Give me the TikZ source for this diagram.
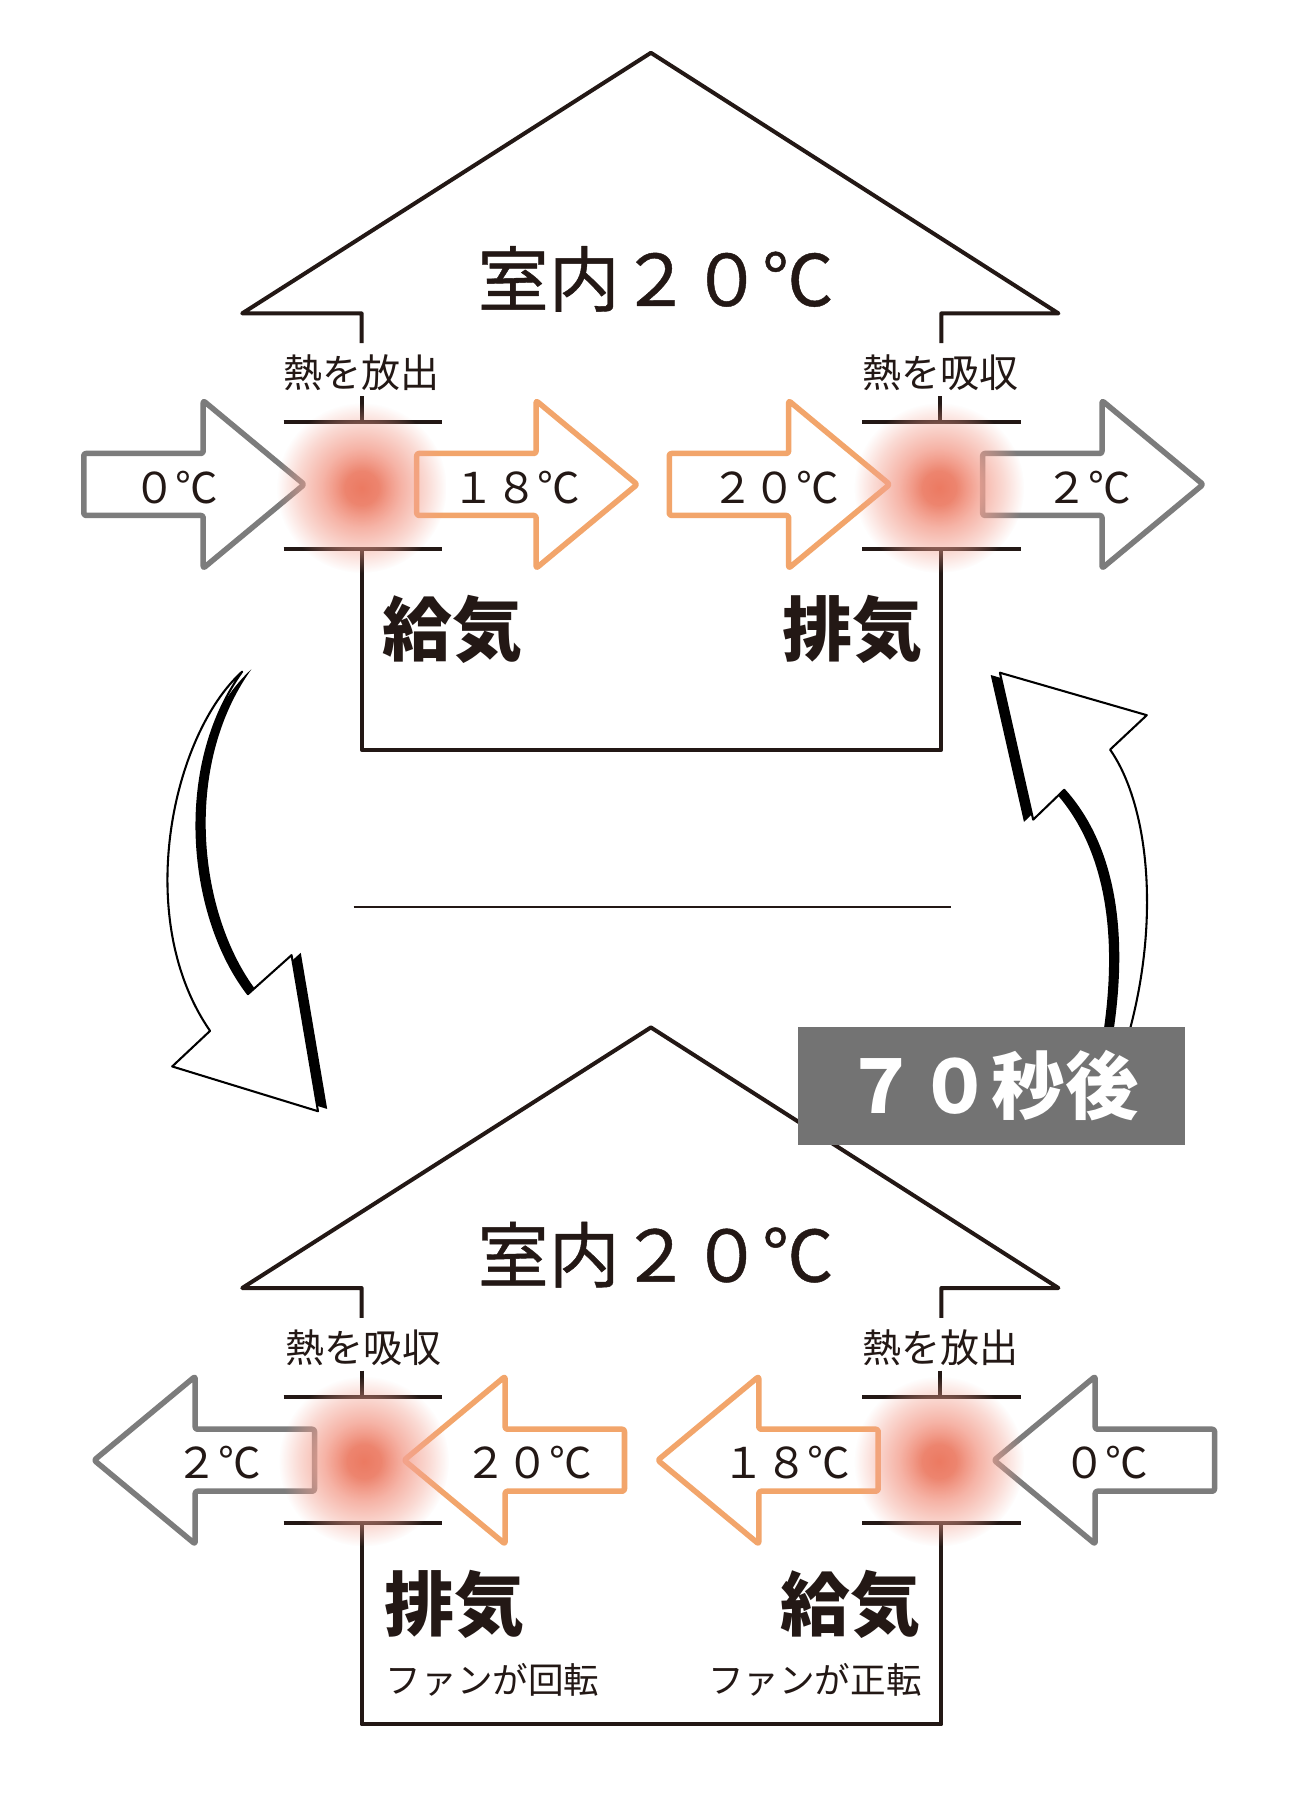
\documentclass[tikz,border=0pt]{standalone}
\usepackage{fontspec}
\usepackage{tikz}
\usetikzlibrary{fadings}
\newfontfamily\jp{Noto Sans CJK JP}
\newfontfamily\jpmid{Noto Sans CJK JP}[FakeBold=0.6]

\definecolor{ink}{HTML}{231815}
\definecolor{coldair}{HTML}{7C7C7C}
\definecolor{warmair}{HTML}{F2A56B}
\definecolor{boxgrey}{HTML}{737373}
\definecolor{glowcore}{HTML}{EC7A62}
\definecolor{glowring}{HTML}{F4A393}

% glow of the heat exchanger
\pgfdeclareradialshading{glowshade}{\pgfpointorigin}{color(0bp)=(glowcore); color(5bp)=(glowcore); color(12bp)=(glowring); color(50bp)=(glowring)}
\pgfdeclareradialshading{glowmask}{\pgfpointorigin}{color(0bp)=(white); color(12bp)=(white!80!black); color(19bp)=(white!40!black); color(25bp)=(black); color(50bp)=(black)}
\pgfdeclarefading{glowfade}{\pgfuseshading{glowmask}}

\tikzset{pics/blockarrow/.style={code={
  \draw[pic actions] (-192,-27) -- (-88,-27) -- (-88,-73) -- (0,0) -- (-88,73) -- (-88,27) -- (-192,27) -- cycle;}}}

\def\downturn{(211,585) .. controls (150,640) and (115,800) .. (183,898) -- (150,929) -- (277,968) -- (254,832) -- (216,866) .. controls (165,800) and (150,670) .. (211,585) -- cycle}
\def\upturn{(871,586) -- (999,623) -- (967,653) .. controls (1000,700) and (1012,800) .. (982,905) -- (968,905) .. controls (985,800) and (965,730) .. (927,688) -- (900,714) -- cycle}

\begin{document}
\begin{tikzpicture}[x=1pt, y=-1pt, line join=round,
    house/.style={draw=ink, line width=3.5pt},
    flowline/.style={line width=4.8pt, rounded corners=2pt, fill=white},
    turn/.style={draw=black, line width=1.8pt, fill=white},
    title/.style={inner sep=0pt, text=ink, font=\jpmid\fontsize{62pt}{70pt}\selectfont},
    heat/.style={inner sep=0pt, text=ink, font=\jp\fontsize{34pt}{40pt}\selectfont},
    mode/.style={inner sep=0pt, text=ink, font=\jp\bfseries\fontsize{61pt}{70pt}\selectfont},
    fan/.style={inner sep=0pt, text=ink, font=\jp\fontsize{31pt}{36pt}\selectfont},
    temp/.style={inner sep=0pt, text=ink, font=\jp\fontsize{37pt}{42pt}\selectfont}]
    \path[fill=white] (0,0) rectangle (1132,1568);

    % Houses
    \foreach \dy in {0,849} {
      \begin{scope}[shift={(0,\dy)}]
        \draw[house] (315,299) -- (315,273) -- (211,273) -- (567,46) -- (922,273) -- (820,273) -- (820,299);
        \draw[house] (315,478) -- (315,653) -- (820,653) -- (820,478);
        \foreach \cx in {315,819} {
          \draw[house] (\cx,345) -- (\cx,368);
          \draw[house] (\cx-68,368) -- (\cx+70,368);
          \draw[house] (\cx-68,478) -- (\cx+70,478);
        }
      \end{scope}
    }

    % Divider
    \draw[ink, line width=1.5pt] (308,790) -- (828,790);

    % Turn arrows
    \fill[black, shift={(8,-2)}] \downturn;
    \draw[turn] \downturn;
    \fill[black, shift={(-8,2)}] \upturn;
    \draw[turn] \upturn;

    % 70 s label
    \node[fill=boxgrey, minimum width=337pt, minimum height=103pt, inner sep=0pt,
          text=white, font=\jp\bfseries\fontsize{64pt}{70pt}\selectfont] (later) at (864,946) {７０秒後};

    % Air flow, top
    \pic[draw=coldair, flowline] at (265,422) {blockarrow};
    \pic[draw=warmair, flowline] at (555,422) {blockarrow};
    \pic[draw=warmair, flowline] at (775,422) {blockarrow};
    \pic[draw=coldair, flowline] at (1048,422) {blockarrow};

    % Air flow, bottom
    \pic[draw=coldair, flowline, xscale=-1] at (82,1272) {blockarrow};
    \pic[draw=warmair, flowline, xscale=-1] at (352,1272) {blockarrow};
    \pic[draw=warmair, flowline, xscale=-1] at (573,1272) {blockarrow};
    \pic[draw=coldair, flowline, xscale=-1] at (866,1272) {blockarrow};

    % Heat exchangers
    \coordinate (hx1) at (315,425);
    \coordinate (hx2) at (818,425);
    \coordinate (hx3) at (317,1273);
    \coordinate (hx4) at (818,1273);
    \foreach \hx in {hx1,hx2,hx3,hx4}
      \shade[shading=glowshade, path fading=glowfade] (\hx) circle (74);

    % Temperatures
    \node[temp] (t1) at (153,425) {０℃};
    \node[temp] (t2) at (450,425) {１８℃};
    \node[temp] (t3) at (675,425) {２０℃};
    \node[temp] (t4) at (948,425) {２℃};
    \node[temp] (t5) at (190,1274) {２℃};
    \node[temp] (t6) at (460,1274) {２０℃};
    \node[temp] (t7) at (685,1274) {１８℃};
    \node[temp] (t8) at (963,1274) {０℃};

    % Labels, top house
    \node[title] (room1) at (571,243) {室内２０℃};
    \node[heat] (emit1) at (315,325) {熱を放出};
    \node[heat] (take1) at (819,325) {熱を吸収};
    \node[mode, anchor=west] (supply1) at (333,548) {給気};
    \node[mode, anchor=east] (exhaust1) at (804,548) {排気};

    % Labels, bottom house
    \node[title] (room2) at (571,1093) {室内２０℃};
    \node[heat] (take2) at (317,1174) {熱を吸収};
    \node[heat] (emit2) at (819,1174) {熱を放出};
    \node[mode, anchor=west] (exhaust2) at (335,1398) {排気};
    \node[mode, anchor=east] (supply2) at (802,1398) {給気};
    \node[fan, anchor=west] (fan1) at (336,1463) {ファンが回転};
    \node[fan, anchor=east] (fan2) at (803,1463) {ファンが正転};
\end{tikzpicture}
\end{document}
